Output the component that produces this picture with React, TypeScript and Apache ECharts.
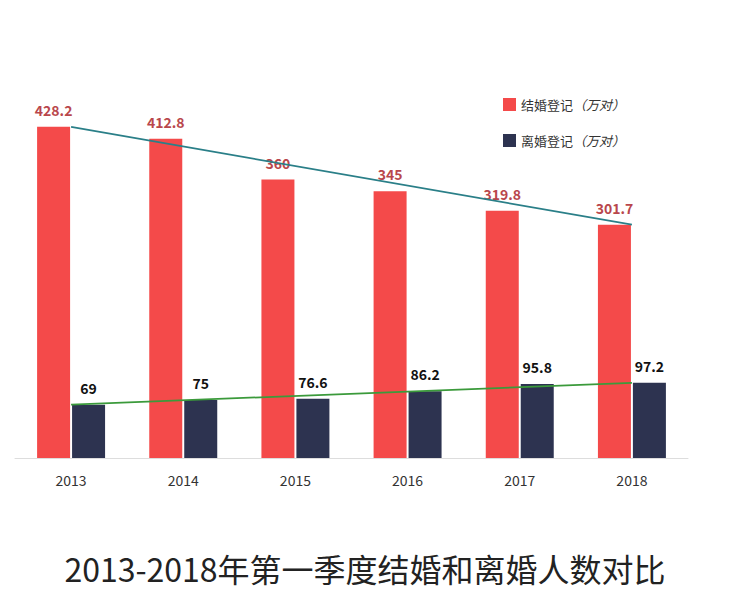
import React, { useEffect, useRef } from "react";
import * as echarts from "echarts";

const years = ["2013", "2014", "2015", "2016", "2017", "2018"];
const marriage = [428.2, 412.8, 360, 345, 319.8, 301.7];
const divorce = [69, 75, 76.6, 86.2, 95.8, 97.2];
const marriageTrend = [428.2, null, null, null, null, 301.7];
const divorceTrend = [69, null, null, null, null, 97.2];
const titleText = "2013-2018年第一季度结婚和离婚人数对比";
const marriageName = "结婚登记";
const divorceName = "离婚登记";
const unitText = "（万对）";

export default function App() {
  const ref = useRef<HTMLDivElement>(null);
  useEffect(() => {
    if (!ref.current) return;
    const chart = echarts.init(ref.current, null, { renderer: "svg" });
    const font = "'Noto Sans CJK SC', 'Noto Sans', sans-serif";
    chart.setOption({
      animation: false,
      backgroundColor: "#ffffff",
      textStyle: { fontFamily: font },
      title: {
        text: titleText,
        left: "center",
        top: 539,
        textStyle: { fontSize: 32, fontWeight: "normal", color: "#222", fontFamily: font },
      },
      legend: {
        orient: "vertical",
        left: 490,
        top: 85,
        itemWidth: 13,
        itemHeight: 13,
        itemGap: 23,
        icon: "rect",
        data: [marriageName, divorceName],
        formatter: (n: string) => `{a|${n}}{b|${unitText}}`,
        textStyle: {
          rich: {
            a: { fontSize: 13, color: "#333", fontFamily: font },
            b: { fontSize: 13, color: "#333", fontStyle: "italic", fontFamily: font },
          },
        },
      },
      grid: { left: 7, right: 34, top: 102, bottom: 132, containLabel: false },
      xAxis: {
        type: "category",
        data: years,
        axisLine: { lineStyle: { color: "#dddddd", width: 1 } },
        axisTick: { show: false },
        axisLabel: { color: "#333", fontSize: 14, margin: 15, fontFamily: font },
      },
      yAxis: {
        type: "value",
        min: 0,
        max: 450,
        show: false,
        splitLine: { show: false },
      },
      series: [
        {
          name: marriageName,
          type: "bar",
          data: marriage,
          barWidth: 33,
          barGap: "6%",
          itemStyle: { color: "#f44a4a" },
          label: {
            show: true,
            position: "top",
            distance: 10,
            color: "#b9474c",
            fontSize: 14,
            fontWeight: "bold",
            fontFamily: font,
          },
        },
        {
          name: divorceName,
          type: "bar",
          data: divorce,
          barWidth: 33,
          itemStyle: { color: "#2d3350" },
          label: {
            show: true,
            position: "top",
            distance: 10,
            color: "#111",
            fontSize: 14,
            fontWeight: "bold",
            fontFamily: font,
          },
        },
        {
          name: "marriageTrend",
          type: "line",
          data: marriageTrend,
          connectNulls: true,
          symbol: "none",
          lineStyle: { color: "#2a7f88", width: 1.7 },
          z: 5,
        },
        {
          name: "divorceTrend",
          type: "line",
          data: divorceTrend,
          connectNulls: true,
          symbol: "none",
          lineStyle: { color: "#3b9a3b", width: 1.7 },
          z: 5,
        },
      ],
    });
    return () => chart.dispose();
  }, []);
  return <div ref={ref} style={{ width: 714, height: 582 }} />;
}
